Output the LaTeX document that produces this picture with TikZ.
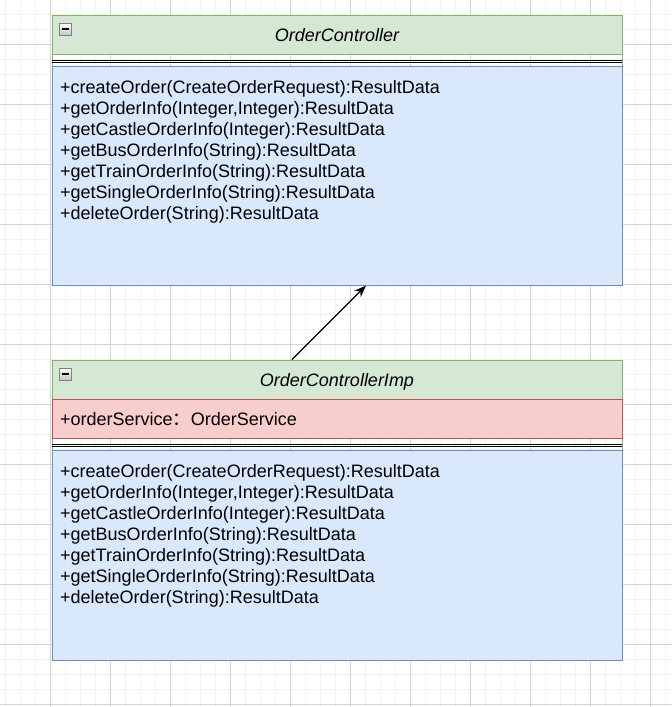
\documentclass[tikz,border=0pt]{standalone}
\usepackage{fontspec}
\setmainfont{Liberation Sans}
\newfontfamily\cjk{Noto Sans CJK SC}
\usetikzlibrary{arrows.meta}
\definecolor{hgreen}{HTML}{D5E8D4}
\definecolor{hgreenline}{HTML}{82B366}
\definecolor{bblue}{HTML}{DAE8FC}
\definecolor{bblueline}{HTML}{6C8EBF}
\definecolor{ared}{HTML}{F8CECC}
\definecolor{aredline}{HTML}{B85450}
\definecolor{gridmajor}{HTML}{D4D4D4}
\definecolor{gridminor}{HTML}{F2F2F2}
\tikzset{
  headbox/.style={rectangle, draw=hgreenline, fill=hgreen, line width=1pt, minimum width=570pt, minimum height=39pt, inner sep=0pt},
  bodybox/.style={rectangle, draw=bblueline, fill=bblue, line width=1pt, minimum width=570pt, inner sep=0pt},
  attrbox/.style={rectangle, draw=aredline, fill=ared, line width=1pt, minimum width=570pt, minimum height=39pt, inner sep=0pt},
  methods/.style={anchor=base west, inner sep=0pt, font=\fontsize{18}{21}\selectfont},
  title/.style={anchor=base, inner sep=0pt, font=\fontsize{18}{21}\selectfont\itshape},
  toggle/.style={rectangle, draw=gray, top color=white, bottom color=gray!45, line width=0.8pt, minimum size=12pt, inner sep=0pt},
}
\begin{document}
\begin{tikzpicture}[x=1pt, y=-1pt]
    \useasboundingbox[fill=white] (0,0) rectangle (672,707);
    % grid
    \foreach \gx in {5,20,...,672} \draw[gridminor] (\gx,0) -- (\gx,707);
    \foreach \gy in {14,29,...,707} \draw[gridminor] (0,\gy) -- (672,\gy);
    \foreach \gx in {50,110,...,672} \draw[gridmajor] (\gx,0) -- (\gx,707);
    \foreach \gy in {44,104,...,707} \draw[gridmajor] (0,\gy) -- (672,\gy);

    % OrderController
    \draw[hgreenline, line width=1pt] (52,54) -- (52,66) (622,54) -- (622,66);
    \node[headbox] (ctrlHead) at (337,34.5) {};
    \node[bodybox, minimum height=219pt] (ctrlBody) at (337,175.5) {};
    \draw[line width=0.8pt] (ctrlHead.south west) ++(0,6) -- ++(570,0);
    \draw[line width=0.8pt] (ctrlHead.south west) ++(0,8.2) -- ++(570,0);
    \node[toggle] (ctrlToggle) at (65,29) {};
    \draw[line width=1.6pt] (ctrlToggle.center) ++(-3.5,0) -- ++(7,0);
    \node[title] (ctrlTitle) at (337,41) {OrderController};
    \foreach \op [count=\i] in {{+createOrder(CreateOrderRequest):ResultData},
        {+getOrderInfo(Integer,Integer):ResultData},
        {+getCastleOrderInfo(Integer):ResultData},
        {+getBusOrderInfo(String):ResultData},
        {+getTrainOrderInfo(String):ResultData},
        {+getSingleOrderInfo(String):ResultData},
        {+deleteOrder(String):ResultData}}
      \node[methods] (ctrlOp\i) at (60,72+21*\i) {\op};

    % OrderControllerImp
    \draw[hgreenline, line width=1pt] (52,438) -- (52,450) (622,438) -- (622,450);
    \node[headbox] (impHead) at (337,379.5) {};
    \node[attrbox] (impAttr) at (337,418.5) {};
    \node[bodybox, minimum height=210pt] (impBody) at (337,555) {};
    \draw[line width=0.8pt] (impAttr.south west) ++(0,6) -- ++(570,0);
    \draw[line width=0.8pt] (impAttr.south west) ++(0,8.2) -- ++(570,0);
    \node[toggle] (impToggle) at (65,374) {};
    \draw[line width=1.6pt] (impToggle.center) ++(-3.5,0) -- ++(7,0);
    \node[title] (impTitle) at (337,386) {OrderControllerImp};
    \node[methods] (impField) at (60,425) {+orderService{\cjk ：}OrderService};
    \foreach \op [count=\i] in {{+createOrder(CreateOrderRequest):ResultData},
        {+getOrderInfo(Integer,Integer):ResultData},
        {+getCastleOrderInfo(Integer):ResultData},
        {+getBusOrderInfo(String):ResultData},
        {+getTrainOrderInfo(String):ResultData},
        {+getSingleOrderInfo(String):ResultData},
        {+deleteOrder(String):ResultData}}
      \node[methods] (impOp\i) at (60,456+21*\i) {\op};

    \draw[-{Stealth[length=12pt, width=9pt]}, line width=1.3pt] ([xshift=-45pt]impHead.north) -- ([xshift=29pt]ctrlBody.south);
\end{tikzpicture}
\end{document}
